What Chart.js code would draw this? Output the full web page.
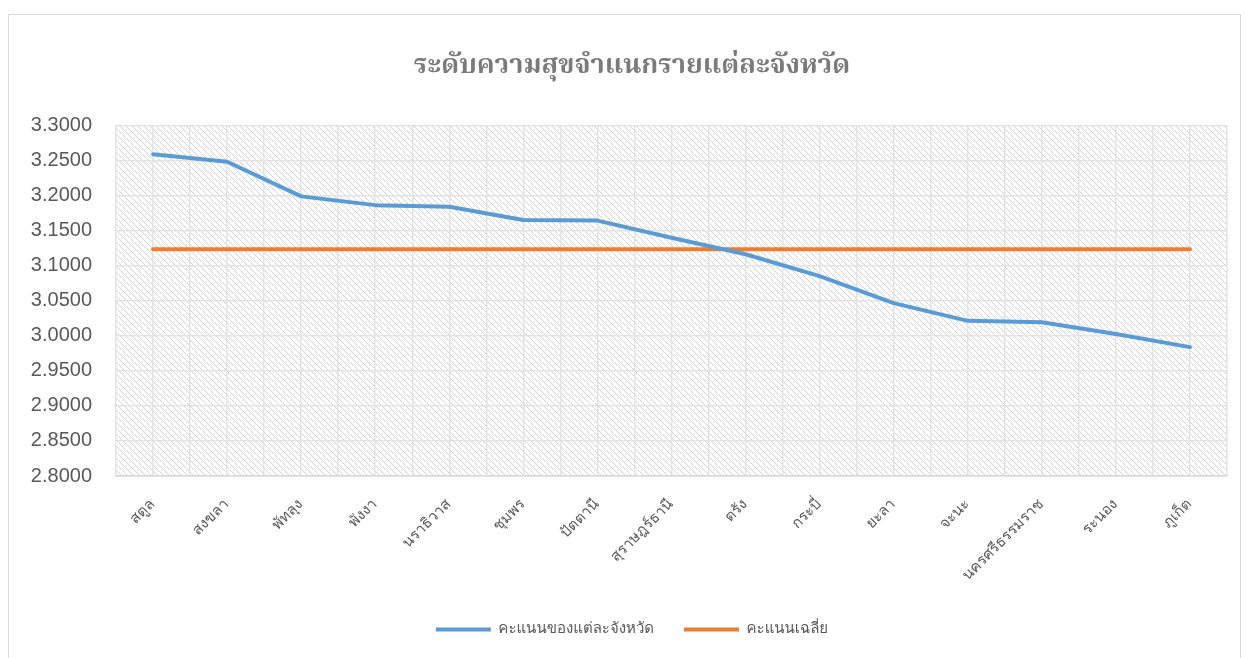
<!DOCTYPE html>
<html>
<head>
<meta charset="utf-8">
<script src="https://cdn.jsdelivr.net/npm/chart.js@4.4.0/dist/chart.umd.min.js"></script>
<style>
	body { margin: 0; background: #ffffff; }
	#wrap { position: relative; width: 1246px; height: 658px; overflow: hidden; }
	#frame { position: absolute; left: 8px; top: 14px; width: 1231px; height: 660px; border: 1px solid #d9d9d9; pointer-events: none; }
	canvas { position: absolute; left: 0; top: 0; }
</style>
</head>
<body>
<div id="wrap">
	<canvas id="myChart" width="1264" height="658"></canvas>
	<div id="frame"></div>
</div>
<script>
// provinces on the x axis
const provinces = ['สตูล', 'สงขลา', 'พัทลุง', 'พังงา', 'นราธิวาส', 'ชุมพร', 'ปัตตานี', 'สุราษฎร์ธานี', 'ตรัง', 'กระบี่', 'ยะลา', 'จะนะ', 'นครศรีธรรมราช', 'ระนอง', 'ภูเก็ต'];
// score of each province
const scores = [3.2588, 3.2482, 3.1988, 3.1863, 3.1840, 3.1652, 3.1642, 3.1398, 3.1163, 3.0851, 3.0466, 3.0213, 3.0193, 3.0026, 2.9838];
// average score (flat line)
const average = [3.1235, 3.1235, 3.1235, 3.1235, 3.1235, 3.1235, 3.1235, 3.1235, 3.1235, 3.1235, 3.1235, 3.1235, 3.1235, 3.1235, 3.1235];
const seriesNames = ['คะแนนของแต่ละจังหวัด', 'คะแนนเฉลี่ย'];
const yMin = 2.8, yMax = 3.3, yStep = 0.05;

const thaiFont = "Loma, 'Noto Sans Thai Looped', Tahoma, 'Noto Sans Thai', 'DejaVu Sans', sans-serif";
const titleFont = "Norasi, 'Noto Serif Thai', Loma, 'Noto Sans Thai Looped', 'Noto Sans Thai', serif";
const textGrey = '#595959';

// hatch pattern for the plot background
function makeHatch() {
	const c = document.createElement('canvas');
	c.width = 6; c.height = 6;
	const g = c.getContext('2d');
	g.strokeStyle = '#d4d4d4';
	g.lineWidth = 1;
	g.beginPath();
	g.moveTo(0, 0); g.lineTo(6, 6);
	g.moveTo(-1, 5); g.lineTo(1, 7);
	g.moveTo(5, -1); g.lineTo(7, 1);
	g.stroke();
	return g.createPattern(c, 'repeat');
}

const hatchPlugin = {
	id: 'hatch',
	beforeDraw(chart) {
		const a = chart.chartArea;
		const ctx = chart.ctx;
		ctx.save();
		ctx.fillStyle = makeHatch();
		ctx.fillRect(a.left, a.top, a.right - a.left, a.bottom - a.top);
		ctx.restore();
	}
};

const ctx = document.getElementById('myChart');
const myChart = new Chart(ctx, {
	type: 'line',
	data: {
		labels: provinces,
		datasets: [{
			label: seriesNames[0],
			data: scores,
			borderColor: '#5b9bd5',
			backgroundColor: '#5b9bd5',
			borderWidth: 4,
			borderCapStyle: 'round',
			borderJoinStyle: 'round',
			pointRadius: 0,
			pointStyle: 'line',
			tension: 0
		}, {
			label: seriesNames[1],
			data: average,
			borderColor: '#ed7d31',
			backgroundColor: '#ed7d31',
			borderWidth: 4,
			borderCapStyle: 'round',
			pointRadius: 0,
			pointStyle: 'line',
			tension: 0
		}]
	},
	options: {
		responsive: false,
		animation: false,
		layout: { padding: { left: 0, right: 0, top: 0, bottom: 11 } },
		scales: {
			x: {
				offset: true,
				grid: { offset: false, color: '#e3e3e3', lineWidth: 1.5, drawTicks: false },
				border: { color: '#d9d9d9', width: 1.5 },
				ticks: {
					color: textGrey,
					font: { family: thaiFont, size: 15 },
					maxRotation: 45, minRotation: 45,
					padding: 20,
					autoSkip: false
				},
				afterFit(scale) { scale.height = 116; }
			},
			x2: {
				position: 'top',
				offset: true,
				labels: provinces,
				grid: { offset: true, color: '#e3e3e3', lineWidth: 1.5, drawTicks: false },
				border: { display: false },
				ticks: { display: false },
				afterFit(scale) { scale.height = 0; }
			},
			y: {
				min: yMin,
				max: yMax,
				grid: { color: '#e3e3e3', lineWidth: 1.5, drawTicks: false },
				border: { display: false },
				ticks: {
					stepSize: yStep,
					color: textGrey,
					padding: 24,
					font: { family: "'Liberation Sans', Arial, sans-serif", size: 20 },
					callback: function (v) { return Number(v).toFixed(4); }
				},
				afterFit(scale) { scale.width = 116; }
			},
			// empty right-hand axis, only keeps room on the right
			y2: {
				position: 'right',
				min: yMin,
				max: yMax,
				grid: { display: false },
				border: { display: false },
				ticks: { display: false },
				afterFit(scale) { scale.width = 37; }
			}
		},
		plugins: {
			title: {
				display: true,
				text: 'ระดับความสุขจำแนกรายแต่ละจังหวัด',
				color: '#7a7a7a',
				font: { family: titleFont, size: 27, weight: 'bold' },
				padding: { top: 52, bottom: 41 }
			},
			legend: {
				position: 'bottom',
				labels: {
					usePointStyle: true,
					pointStyle: 'line',
					pointStyleWidth: 55,
					color: textGrey,
					font: { family: thaiFont, size: 15 },
					padding: 30
				}
			},
			tooltip: { enabled: false }
		}
	},
	plugins: [hatchPlugin]
});
</script>
</body>
</html>
